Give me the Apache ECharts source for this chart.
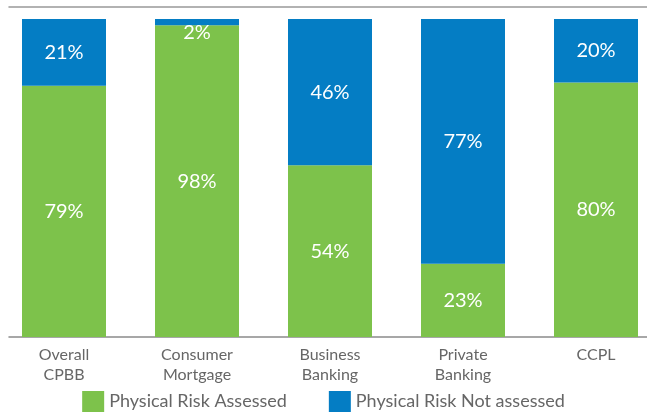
<!DOCTYPE html>
<html><head><meta charset="utf-8">
<script src="https://cdn.jsdelivr.net/npm/echarts@6/dist/echarts.min.js"></script>
<style>html,body{margin:0;padding:0;background:#fff}#c{width:647px;height:412px}</style>
</head><body><div id="c"></div>
<script>
const categories = ['Overall\nCPBB', 'Consumer\nMortgage', 'Business\nBanking', 'Private\nBanking', 'CCPL'];
const assessed = [79, 98, 54, 23, 80];
const notAssessed = [21, 2, 46, 77, 20];
const seriesNames = ['Physical Risk Assessed', 'Physical Risk Not assessed'];

const FONT = 'Lato, "Open Sans", sans-serif';
const green = '#7DC24B', blue = '#047DC4';
const chart = echarts.init(document.getElementById('c'), null, {renderer: 'canvas'});
chart.setOption({
  animation: false,
  textStyle: {fontFamily: FONT},
  grid: [
    {left: -2.5, width: 665, top: 19, bottom: 75, outerBoundsMode: 'none', containLabel: false},
    {left: 9, right: 0, top: 19, bottom: 75, outerBoundsMode: 'none', containLabel: false}
  ],
  xAxis: [
    {
      type: 'category', data: categories, gridIndex: 0,
      axisLine: {show: false}, axisTick: {show: false},
      axisLabel: {color: '#666', fontSize: 16, lineHeight: 20, margin: 8, fontFamily: FONT}
    },
    {
      type: 'value', gridIndex: 1, position: 'bottom', min: 0, max: 1,
      axisLine: {show: true, lineStyle: {color: '#8a8a8a', width: 1.5}},
      axisTick: {show: false}, axisLabel: {show: false}, splitLine: {show: false}
    },
    {
      type: 'value', gridIndex: 1, position: 'top', offset: 12, min: 0, max: 1,
      axisLine: {show: true, lineStyle: {color: '#999', width: 1.5}},
      axisTick: {show: false}, axisLabel: {show: false}, splitLine: {show: false}
    }
  ],
  yAxis: [
    {type: 'value', gridIndex: 0, min: 0, max: 100, show: false, splitLine: {show: false}},
    {type: 'value', gridIndex: 1, min: 0, max: 1, show: false, splitLine: {show: false}}
  ],
  legend: {
    bottom: -5, left: 'center', itemWidth: 22, itemHeight: 21, itemGap: 42,
    icon: 'rect',
    textStyle: {color: '#666', fontSize: 18, fontFamily: FONT}
  },
  series: [
    {
      name: seriesNames[0], type: 'bar', stack: 's', barWidth: 84,
      itemStyle: {color: green},
      data: assessed,
      label: {show: true, position: 'inside', color: '#fff', fontSize: 20, fontFamily: FONT,
        formatter: '{c}%'}
    },
    {
      name: seriesNames[1], type: 'bar', stack: 's', barWidth: 84,
      itemStyle: {color: blue},
      data: notAssessed.map(v => v < 5 ? {value: v, label: {position: 'inside', offset: [0, 10]}} : v),
      label: {show: true, position: 'inside', color: '#fff', fontSize: 20, fontFamily: FONT,
        formatter: '{c}%'}
    }
  ]
});
</script></body></html>
